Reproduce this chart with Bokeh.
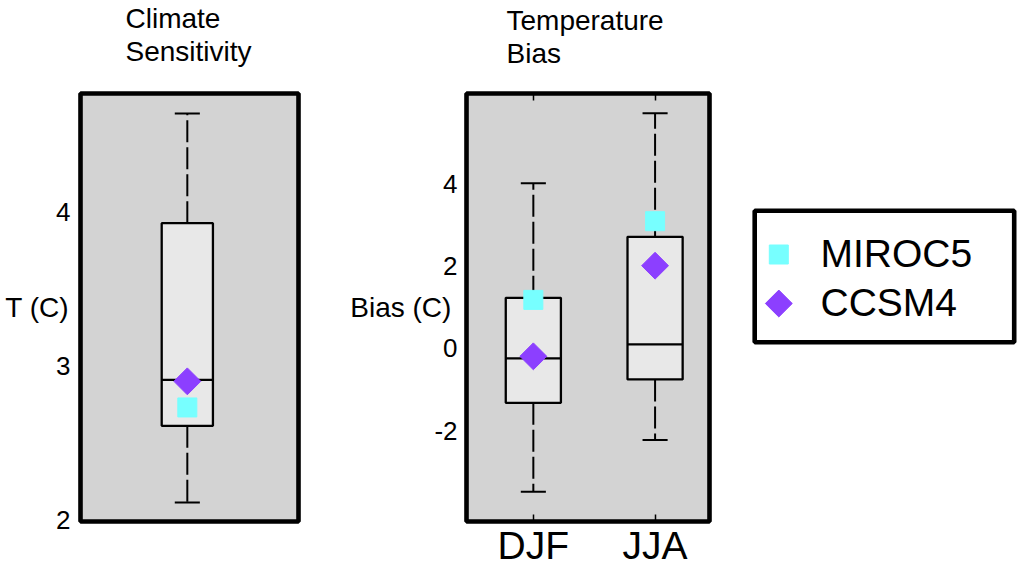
import numpy as np
from bokeh.plotting import figure
from bokeh.models import (Range1d, LinearAxis, FixedTicker, ColumnDataSource, Title)
from bokeh.core.properties import value
from bokeh.layouts import row
from bokeh.embed import file_html
from bokeh.resources import INLINE

FONT = "Liberation Sans"

# ---------------- data ----------------
# Panel 1: climate sensitivity (T, C)
cs_x = [1.0]
cs_lower = [2.11]
cs_q1 = [2.61]
cs_median = [2.91]
cs_q3 = [3.93]
cs_upper = [4.645]
cs_miroc5 = [2.73]
cs_ccsm4 = [2.90]
cs_ticks = [2, 3, 4]

# Panel 2: temperature bias (C)
seasons = ["DJF", "JJA"]
tb_x = [1, 2]
tb_lower = [-3.48, -2.22]
tb_q1 = [-1.32, -0.75]
tb_median = [-0.24, 0.10]
tb_q3 = [1.23, 2.71]
tb_upper = [4.01, 5.71]
tb_miroc5 = [1.18, 3.09]
tb_ccsm4 = [-0.19, 2.01]
tb_ticks = [-2, 0, 2, 4]

models = ["MIROC5", "CCSM4"]

MIROC_COLOR = "#77ffff"
CCSM_COLOR = "#8c3fff"
BG = "#d3d3d3"
BOX_FILL = "#e8e8e8"

TOP, BOTTOM = 93, 51
MARKERS = [dict(marker="square", angle=0.0, size=19, color=MIROC_COLOR),
           dict(marker="square", angle=np.pi / 4, size=19, color=CCSM_COLOR)]


def draw_box(p, x, lower, q1, med, q3, upper, width, cap):
    x = np.asarray(x, dtype=float)
    src = ColumnDataSource(dict(
        x=x, lower=lower, q1=q1, med=med, q3=q3, upper=upper,
        left=x - width / 2, right=x + width / 2,
        cl=x - cap / 2, cr=x + cap / 2))
    p.segment("x", "q3", "x", "upper", source=src, line_color="black",
              line_width=2, line_dash="22 5")
    p.segment("x", "q1", "x", "lower", source=src, line_color="black",
              line_width=2, line_dash="22 5")
    p.segment("cl", "upper", "cr", "upper", source=src, line_color="black", line_width=2)
    p.segment("cl", "lower", "cr", "lower", source=src, line_color="black", line_width=2)
    p.quad(left="left", right="right", bottom="q1", top="q3", source=src,
           fill_color=BOX_FILL, line_color="black", line_width=2.3)
    p.segment("left", "med", "right", "med", source=src, line_color="black", line_width=2.3)


def style(p):
    p.background_fill_color = BG
    p.border_fill_color = "white"
    p.outline_line_color = "black"
    p.outline_line_width = 4.6
    p.outline_line_alpha = 1.0


def yaxis(ticks, standoff, label, label_standoff):
    ax = LinearAxis(ticker=FixedTicker(ticks=ticks),
                    major_label_overrides={t: str(t) for t in ticks})
    ax.major_tick_in = 0
    ax.major_tick_out = 0
    ax.minor_tick_line_color = None
    ax.axis_line_color = None
    ax.major_label_standoff = standoff
    ax.major_label_text_font = FONT
    ax.major_label_text_font_size = "26px"
    ax.major_label_text_color = "black"
    ax.axis_label = label
    ax.axis_label_orientation = "horizontal"
    ax.axis_label_standoff = label_standoff
    ax.axis_label_text_font = FONT
    ax.axis_label_text_font_size = "28px"
    ax.axis_label_text_font_style = "normal"
    ax.axis_label_text_color = "black"
    return ax


def add_title(p, lines, offset, standoff, fallback):
    kw = dict(align="left", offset=offset, vertical_align="bottom",
              text_font=FONT, text_font_size="28px", text_font_style="normal",
              text_color="black", text_line_height=1.05)
    try:
        # an empty last line lifts the two title lines off the frame
        t = Title(text="\n".join(lines + ["\u00a0"]), standoff=standoff, **kw)
    except Exception:
        t = Title(text="\n".join(lines), standoff=fallback, **kw)
    p.add_layout(t, "above")


# ---------------- panel 1 ----------------
p1 = figure(width=330, height=572, output_backend="svg", toolbar_location=None,
            x_range=Range1d(0.02, 2.02), y_range=Range1d(1.987, 4.775),
            x_axis_location=None, y_axis_location=None,
            min_border_left=80, min_border_right=32, min_border_top=TOP,
            min_border_bottom=BOTTOM)
style(p1)
p1.add_layout(yaxis(cs_ticks, 10, "T (C)", -16), "left")
draw_box(p1, cs_x, cs_lower, cs_q1, cs_median, cs_q3, cs_upper, 0.47, 0.23)
for vals, m in zip((cs_miroc5, cs_ccsm4), MARKERS):
    p1.scatter(cs_x, vals, **m)
add_title(p1, ["Climate", "Sensitivity"], 45, -12, 26)

# ---------------- panel 2 ----------------
p2 = figure(width=400, height=572, output_backend="svg", toolbar_location=None,
            x_range=Range1d(0.451, 2.447), y_range=Range1d(-4.2, 6.19),
            x_axis_location=None, y_axis_location=None,
            min_border_left=136, min_border_right=21, min_border_top=TOP,
            min_border_bottom=BOTTOM)
style(p2)
p2.add_layout(yaxis(tb_ticks, 9, "Bias (C)", -20), "left")

overrides = {x: s for x, s in zip(tb_x, seasons)}
xb = LinearAxis(ticker=FixedTicker(ticks=tb_x), major_label_overrides=overrides)
xt = LinearAxis(ticker=FixedTicker(ticks=tb_x),
                major_label_overrides={x: "" for x in tb_x})
for ax in (xb, xt):
    ax.major_tick_in = 7
    ax.major_tick_out = 0
    ax.major_tick_line_width = 1.5
    ax.minor_tick_line_color = None
    ax.axis_line_color = None
    ax.major_label_text_font = FONT
    ax.major_label_text_color = "black"
xb.major_label_text_font_size = "39px"
xb.major_label_standoff = 2
xt.major_label_text_font_size = "1px"
xt.major_label_standoff = 0
p2.add_layout(xb, "below")
p2.add_layout(xt, "above")

draw_box(p2, tb_x, tb_lower, tb_q1, tb_median, tb_q3, tb_upper, 0.453, 0.206)
for vals, m in zip((tb_miroc5, tb_ccsm4), MARKERS):
    p2.scatter(tb_x, vals, **m)
add_title(p2, ["Temperature", "Bias"], 40, -16, 24)

# ---------------- legend panel (page-pixel coordinates) ----------------
p3 = figure(width=292, height=572, output_backend="svg", toolbar_location=None,
            x_range=Range1d(730, 1022), y_range=Range1d(521, 93),
            x_axis_location=None, y_axis_location=None,
            min_border_left=0, min_border_right=0, min_border_top=TOP,
            min_border_bottom=BOTTOM)
p3.background_fill_color = "white"
p3.border_fill_color = "white"
p3.outline_line_color = None
# legend frame
p3.quad(left=[754.2], right=[1013.7], top=[210.2], bottom=[341.8],
        fill_color="white", line_color="black", line_width=4.6)
# legend keys and labels
key_x = 778.3
key_y = [254, 303]
for ky, m in zip(key_y, MARKERS):
    p3.scatter([key_x], [ky], **m)
p3.text(x=[820] * len(models), y=[253, 302], text=models,
        text_font=value(FONT), text_font_size="39px", text_color="black",
        text_align="left", text_baseline="middle")

for p in (p1, p2, p3):
    p.grid.visible = False

layout = row(p1, p2, p3)
open("out.html", "w").write(file_html(layout, INLINE, "chart"))
